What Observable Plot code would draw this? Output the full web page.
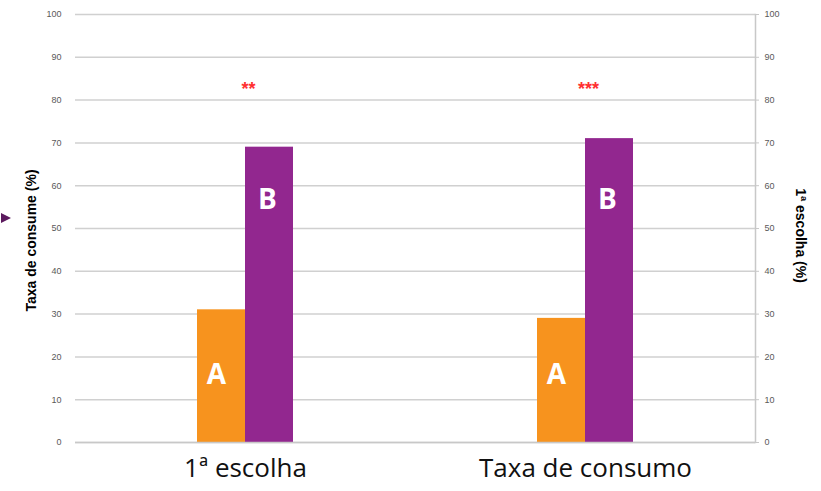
<!DOCTYPE html>
<html>
<head>
<meta charset="utf-8">
<script src="https://cdn.jsdelivr.net/npm/d3@7"></script>
<script src="https://cdn.jsdelivr.net/npm/@observablehq/plot@0.6"></script>
<style>
  body { margin: 0; background: #fff; }
  #wrap { position: relative; width: 821px; height: 491px; }
  #tri { position: absolute; left: 1px; top: 213px; width: 0; height: 0;
         border-top: 5px solid transparent; border-bottom: 5px solid transparent;
         border-left: 10px solid #5c1a5e; }
</style>
</head>
<body>
<div id="wrap"><div id="tri"></div></div>
<script>
const categories = ["1ª escolha", "Taxa de consumo"];
const series = ["A", "B"];
const valuesA = [31, 29];
const valuesB = [69, 71];
const stars = ["**", "***"];
const yTicks = [0, 10, 20, 30, 40, 50, 60, 70, 80, 90, 100];

const rows = [];
categories.forEach((c, i) => {
  rows.push({category: c, series: "A", value: valuesA[i]});
  rows.push({category: c, series: "B", value: valuesB[i]});
});
const starRows = categories.map((c, i) => ({category: c, label: stars[i]}));

const colors = {A: "#f7931e", B: "#92278f"};
const font = "Liberation Sans, Arial, sans-serif";

const chart = Plot.plot({
  width: 821,
  height: 491,
  marginLeft: 74,
  marginRight: 66,
  marginTop: 14,
  marginBottom: 49,
  style: {fontFamily: font, background: "#fff"},
  fx: {domain: categories, padding: 0, label: null},
  x: {domain: series, paddingInner: 0, paddingOuter: 2.47, axis: null},
  y: {domain: [0, 100], axis: null},
  color: {domain: series, range: [colors.A, colors.B]},
  marks: [
    Plot.ruleY(yTicks, {stroke: "#d0d0d0", strokeWidth: 1.5}),
    Plot.axisY({anchor: "left", ticks: yTicks, tickSize: 0, tickPadding: 14, label: null, fontSize: 9, fill: "#595959"}),
    Plot.axisY({anchor: "right", ticks: yTicks, tickSize: 3, tickPadding: 6, label: null, fontSize: 9, fill: "#595959", stroke: "#c8c8c8"}),
    Plot.frame({anchor: "right", stroke: "#c8c8c8", strokeWidth: 1.5, facet: "super"}),
    Plot.barY(rows, {fx: "category", x: "series", y: "value", fill: "series"}),
    Plot.text(rows.filter(d => d.series === "A"), {fx: "category", x: "series", text: "series", frameAnchor: "bottom", lineAnchor: "middle", dy: -67, fill: "white", fontSize: 28, fontWeight: "bold", dx: -5, fontFamily: "Open Sans, sans-serif"}),
    Plot.text(rows.filter(d => d.series === "B"), {fx: "category", x: "series", text: "series", frameAnchor: "top", lineAnchor: "middle", dy: 186, fill: "white", fontSize: 28, fontWeight: "bold", dx: -2, fontFamily: "Open Sans, sans-serif"}),
    Plot.text(starRows, {fx: "category", text: "label", frameAnchor: "top", lineAnchor: "middle", dy: 75, dx: 3, fill: "#ff3030", fontSize: 18, fontWeight: "bold"}),
    Plot.ruleY([0], {stroke: "#c8c8c8", strokeWidth: 1.5}),
    Plot.axisFx({anchor: "bottom", tickSize: 0, tickPadding: 16, label: null, fontSize: 26, fill: "#111", fontFamily: "Open Sans, sans-serif"}),
    Plot.text(["Taxa de consume (%)"], {frameAnchor: "left", textAnchor: "middle", lineAnchor: "middle", rotate: -90, dx: -44, dy: 12, fontSize: 14, fontWeight: "bold", fill: "#000", facet: "super"}),
    Plot.text(["1ª escolha (%)"], {frameAnchor: "right", textAnchor: "middle", lineAnchor: "middle", rotate: 90, dx: 45, dy: 7, fontSize: 14, fontWeight: "bold", fill: "#000", facet: "super"})
  ]
});
document.getElementById("wrap").appendChild(chart);
</script>
</body>
</html>
